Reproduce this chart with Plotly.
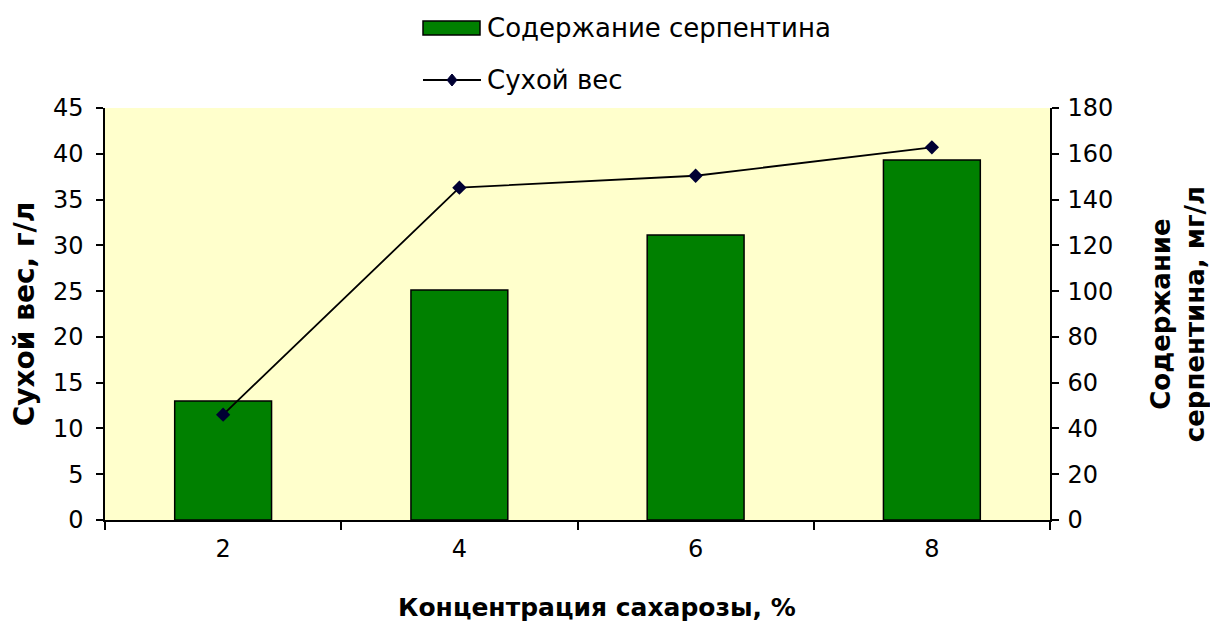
import plotly.graph_objects as go

categories = ["2", "4", "6", "8"]
serpentine = [52, 100.5, 124.5, 157.3]   # mg/l, right axis
dry_weight = [11.5, 36.3, 37.6, 40.7]    # g/l, left axis

bar_name = "Содержание серпентина"
line_name = "Сухой вес"
x_title = "Концентрация сахарозы, %"
y_title = "Сухой вес, г/л"
y2_title = "Содержание<br>серпентина, мг/л"

FONT = "DejaVu Sans"
W, H = 1210, 635
ML, MR, MT, MB = 105, 160, 108, 115
PW, PH = W - ML - MR, H - MT - MB

def px(x):
    return (x - ML) / PW

def py(y):
    return (H - MB - y) / PH

fig = go.Figure()
# bars on primary axis (drawn on the right side), line on overlaying left axis so it sits on top
fig.add_trace(go.Bar(
    x=categories, y=serpentine, name=bar_name, yaxis="y",
    width=0.41, marker=dict(color="#008000", line=dict(color="black", width=1.5)),
    showlegend=False,
))
fig.add_trace(go.Scatter(
    x=categories, y=dry_weight, name=line_name, mode="lines+markers", yaxis="y2",
    line=dict(color="black", width=1.8),
    marker=dict(symbol="diamond", size=11, color="#000033"),
    showlegend=False,
))

shapes = [
    dict(type="rect", xref="paper", yref="paper", x0=px(423), x1=px(480), y0=py(35), y1=py(21),
         fillcolor="#008000", line=dict(color="black", width=1.5)),
    dict(type="line", xref="paper", yref="paper", x0=px(423), x1=px(481), y0=py(80), y1=py(80),
         line=dict(color="black", width=1.8)),
    dict(type="path", xref="paper", yref="paper",
         path=f"M {px(452)} {py(74)} L {px(457)} {py(80)} L {px(452)} {py(86)} L {px(447)} {py(80)} Z",
         fillcolor="#000033", line=dict(color="#000033", width=1)),
]
annotations = [
    dict(text=bar_name, xref="paper", yref="paper", x=px(485), y=py(28), xanchor="left", yanchor="middle",
         showarrow=False, font=dict(family=FONT, size=26, color="black")),
    dict(text=line_name, xref="paper", yref="paper", x=px(485), y=py(80), xanchor="left", yanchor="middle",
         showarrow=False, font=dict(family=FONT, size=26, color="black")),
    dict(text="<b>" + x_title + "</b>", xref="paper", yref="paper", x=px(597), y=py(607),
         xanchor="center", yanchor="middle", showarrow=False,
         font=dict(family=FONT, size=25, color="black")),
]

axis_common = dict(ticks="outside", tickwidth=1.5, tickcolor="black", showline=True,
                   linecolor="black", linewidth=1.5, showgrid=False, zeroline=False,
                   automargin=False)

fig.update_layout(
    width=W, height=H,
    margin=dict(l=ML, r=MR, t=MT, b=MB),
    paper_bgcolor="white", plot_bgcolor="#FFFFCC",
    font=dict(family=FONT, size=24, color="black"),
    shapes=shapes, annotations=annotations,
    xaxis=dict(
        type="category", tickson="boundaries", ticklen=8, ticklabelstandoff=6,
        tickfont=dict(family=FONT, size=24),
        **axis_common,
    ),
    yaxis=dict(
        range=[0, 180], dtick=20, side="right", ticklen=7, ticklabelstandoff=4,
        tickfont=dict(family=FONT, size=24),
        title=dict(text="<b>" + y2_title + "</b>", font=dict(family=FONT, size=26), standoff=44),
        **axis_common,
    ),
    yaxis2=dict(
        range=[0, 45], dtick=5, overlaying="y", side="left", ticklen=7, ticklabelstandoff=8,
        tickfont=dict(family=FONT, size=24),
        title=dict(text="<b>" + y_title + "</b>", font=dict(family=FONT, size=28), standoff=10),
        **axis_common,
    ),
)

fig.write_html("out.html")
